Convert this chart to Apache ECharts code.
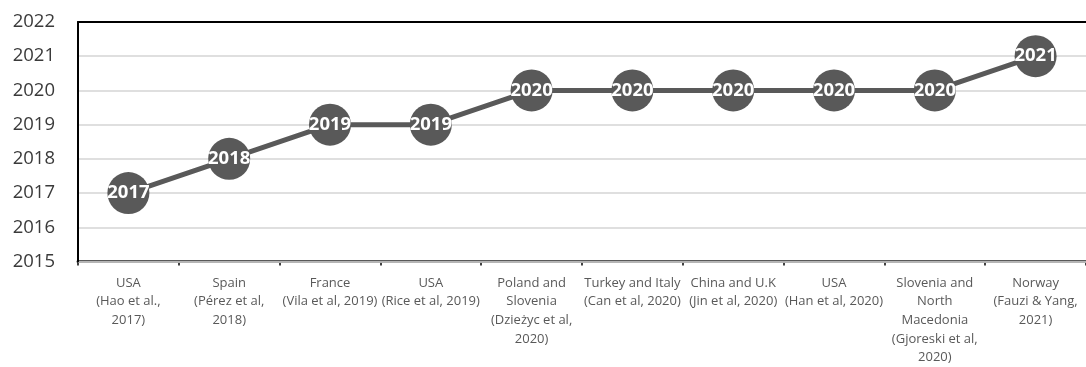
<!DOCTYPE html>
<html>
<head>
<meta charset="utf-8">
<style>
  html, body { margin: 0; padding: 0; background: #fff; }
  #chart { width: 1086px; height: 367px; }
</style>
<script src="https://cdn.jsdelivr.net/npm/echarts@6/dist/echarts.min.js"></script>
</head>
<body>
<div id="chart"></div>
<script>
// Study locations and references, in chronological order
const categories = [
  'USA\n(Hao et al.,\n2017)',
  'Spain\n(Pérez et al,\n2018)',
  'France\n(Vila et al, 2019)',
  'USA\n(Rice et al, 2019)',
  'Poland and\nSlovenia\n(Dzieżyc et al,\n2020)',
  'Turkey and Italy\n(Can et al, 2020)',
  'China and U.K\n(Jin et al, 2020)',
  'USA\n(Han et al, 2020)',
  'Slovenia and\nNorth\nMacedonia\n(Gjoreski et al,\n2020)',
  'Norway\n(Fauzi & Yang,\n2021)'
];

// Publication year of each study
const years = [2017, 2018, 2019, 2019, 2020, 2020, 2020, 2020, 2020, 2021];

// Y axis range
const yMin = 2015;
const yMax = 2022;

const chart = echarts.init(document.getElementById('chart'), null, { renderer: 'canvas' });

chart.setOption({
  animation: false,
  backgroundColor: '#ffffff',
  grid: { left: 78, right: -8, top: 22, bottom: 102, containLabel: false },
  xAxis: [{
    type: 'category',
    data: categories,
    boundaryGap: true,
    axisLine: { show: true, onZero: false, lineStyle: { color: '#595959', width: 3 } },
    axisTick: { show: true, length: 4, lineStyle: { color: '#404040', width: 2 } },
    axisLabel: {
      interval: 0,
      margin: 12,
      color: '#595959',
      fontFamily: 'Open Sans',
      fontSize: 13,
      lineHeight: 18.7,
      align: 'center'
    },
    splitLine: { show: false }
  }, {
    // plain top border of the plot
    type: 'category',
    position: 'top',
    data: categories,
    z: 5,
    axisLine: { show: true, onZero: false, lineStyle: { color: '#000000', width: 2 } },
    axisTick: { show: false },
    axisLabel: { show: false },
    splitLine: { show: false }
  }],
  yAxis: {
    type: 'value',
    min: yMin,
    max: yMax,
    interval: 1,
    z: 4,
    axisLine: { show: true, lineStyle: { color: '#000000', width: 2 } },
    axisTick: { show: false },
    axisLabel: {
      margin: 23,
      color: '#3a3a3a',
      fontFamily: 'Open Sans',
      fontSize: 18.5,
      formatter: (v) => String(v)
    },
    splitLine: { show: true, lineStyle: { color: '#d4d4d4', width: 1.5 } }
  },
  series: [{
    type: 'line',
    data: years,
    symbol: 'circle',
    symbolSize: 42,
    lineStyle: { color: '#595959', width: 5 },
    itemStyle: { color: '#595959' },
    label: {
      show: true,
      position: 'inside',
      color: '#ffffff',
      fontFamily: 'Open Sans',
      fontWeight: 'bold',
      fontSize: 18.5
    },
    z: 6
  }]
});
</script>
</body>
</html>
